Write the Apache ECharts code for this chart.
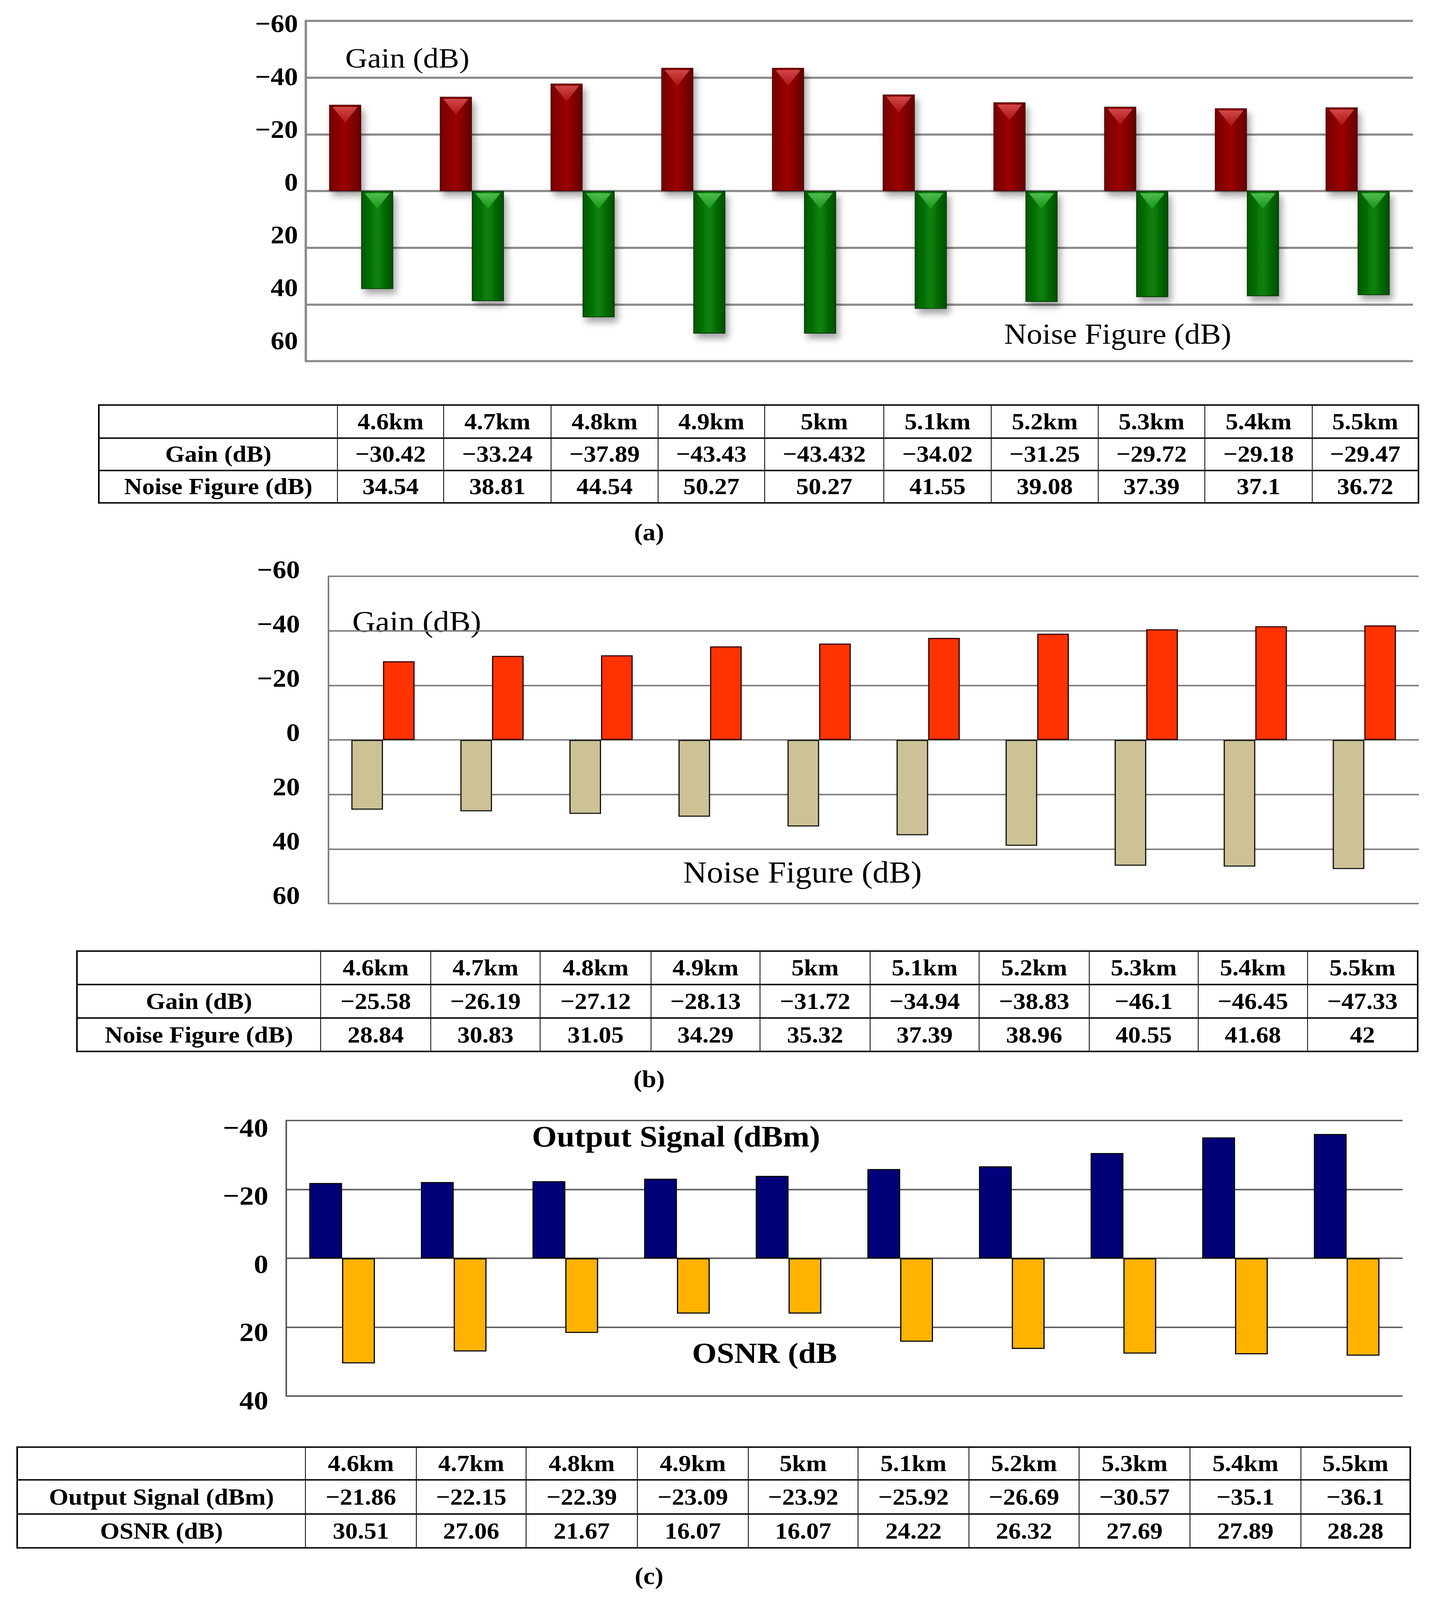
<!DOCTYPE html>
<html><head><meta charset="utf-8">
<script src="https://cdn.jsdelivr.net/npm/echarts@6/dist/echarts.min.js"></script>
<style>
html,body{margin:0;padding:0;background:#fff;overflow:hidden;}
#stage{position:absolute;left:0;top:0;width:3682px;height:4448px;transform-origin:0 0;}
#chart{position:absolute;left:0;top:0;width:3682px;height:4448px;}
.tbl{position:absolute;border-collapse:collapse;table-layout:fixed;font-family:'Liberation Serif',serif;font-weight:bold;font-size:64px;color:#000;}
.tbl td{border-left:2px solid #000;border-right:2px solid #000;border-top:4px solid #000;border-bottom:4px solid #000;text-align:center;vertical-align:middle;padding:0;white-space:nowrap;}
.tbl td:first-child{border-left:4px solid #000;}
.tbl td:last-child{border-right:4px solid #000;}
.cap{position:absolute;font-family:'Liberation Serif',serif;font-weight:bold;font-size:66px;transform:translate(-50%,-50%);line-height:1;}
</style></head><body>
<div id="stage"><div id="chart"></div></div>
<script>
// ---------------- data ----------------
const categories = ['4.6km','4.7km','4.8km','4.9km','5km','5.1km','5.2km','5.3km','5.4km','5.5km'];
// panel (a)
const gainA = [-30.42,-33.24,-37.89,-43.43,-43.432,-34.02,-31.25,-29.72,-29.18,-29.47];
const noiseA = [34.54,38.81,44.54,50.27,50.27,41.55,39.08,37.39,37.1,36.72];
// panel (b)
const gainB = [-25.58,-26.19,-27.12,-28.13,-31.72,-34.94,-38.83,-46.1,-46.45,-47.33];
const noiseB = [28.84,30.83,31.05,34.29,35.32,37.39,38.96,40.55,41.68,42];
// panel (c)
const outputC = [-21.86,-22.15,-22.39,-23.09,-23.92,-25.92,-26.69,-30.57,-35.1,-36.1];
const osnrC = [30.51,27.06,21.67,16.07,16.07,24.22,26.32,27.69,27.89,28.28];
// axis ticks
const ticksAB = {min:-60, max:60, interval:20};
const ticksC = {min:-40, max:40, interval:20};

// ---------------- helpers ----------------
const SERIF = '"Liberation Serif", "Times New Roman", serif';
function fmt(v){ return v < 0 ? '\u2212' + Math.abs(v) : String(v); }
const stage = document.getElementById('stage');

// map the 3682x4448 design onto the viewport the page really gets
const kx = (window.innerWidth || 3682) / 3682;
const ky = (window.innerHeight || 4448) / 4448;
stage.style.transform = 'scale(' + kx + ',' + ky + ')';

function buildTable(colEdges, rowEdges, rows){
  const t = document.createElement('table');
  t.className = 'tbl';
  t.style.left = colEdges[0] + 'px';
  t.style.top = rowEdges[0] + 'px';
  t.style.width = (colEdges[colEdges.length-1] - colEdges[0]) + 'px';
  const cg = document.createElement('colgroup');
  for (let i = 0; i < colEdges.length - 1; i++){
    const c = document.createElement('col');
    c.style.width = (colEdges[i+1] - colEdges[i]) + 'px';
    cg.appendChild(c);
  }
  t.appendChild(cg);
  rows.forEach((r, ri) => {
    const tr = document.createElement('tr');
    tr.style.height = (rowEdges[ri+1] - rowEdges[ri]) + 'px';
    r.forEach(txt => { const td = document.createElement('td'); td.textContent = txt; tr.appendChild(td); });
    t.appendChild(tr);
  });
  stage.appendChild(t);
}
function caption(text, x, y){
  const d = document.createElement('div');
  d.className = 'cap'; d.textContent = text;
  d.style.left = x + 'px'; d.style.top = y + 'px';
  stage.appendChild(d);
}

buildTable([251,862,1134,1409,1683,1956,2261,2536,2810,3083,3358,3630],[1124,1216,1306,1396],
  [[''].concat(categories), ['Gain (dB)'].concat(gainA.map(fmt)), ['Noise Figure (dB)'].concat(noiseA.map(fmt))]);
buildTable([195,819,1101,1381,1665,1944,2226,2505,2787,3066,3346,3628],[2642,2735,2828,2921],
  [[''].concat(categories), ['Gain (dB)'].concat(gainB.map(fmt)), ['Noise Figure (dB)'].concat(noiseB.map(fmt))]);
buildTable([42,780,1064,1345,1630,1914,2195,2479,2761,3045,3329,3609],[4021,4112,4207,4301],
  [[''].concat(categories), ['Output Signal (dBm)'].concat(outputC.map(fmt)), ['OSNR (dB)'].concat(osnrC.map(fmt))]);
caption('(a)', 1662, 1480);
caption('(b)', 1662, 3000);
caption('(c)', 1662, 4381);

// ---------------- chart ----------------
const grids = [
  {left:783, top:58, width:2835, height:946},   // 0 (a) bars
  {left:783, top:66, width:2835, height:881},   // 1 (a) tick labels
  {left:841, top:1602, width:2792, height:910}, // 2 (b) bars
  {left:841, top:1584, width:2792, height:905}, // 3 (b) tick labels
  {left:733, top:3115, width:2858, height:766}, // 4 (c) bars
  {left:733, top:3135, width:2858, height:758}  // 5 (c) tick labels
];
const xAxes = grids.map((g, i) => ({type:'category', gridIndex:i, data:categories,
  axisLine:{show:false}, axisTick:{show:false}, axisLabel:{show:false}, splitLine:{show:false}}));

function mainY(gi, t, color, width){
  return {type:'value', gridIndex:gi, inverse:true, min:t.min, max:t.max, interval:t.interval,
    axisLine:{show:true, lineStyle:{color:color, width:width}}, axisTick:{show:false},
    axisLabel:{show:false}, splitLine:{show:true, lineStyle:{color:color, width:width}}};
}
function labelY(gi, t, margin, size){
  return {type:'value', gridIndex:gi, inverse:true, min:t.min, max:t.max, interval:t.interval,
    axisLine:{show:false}, axisTick:{show:false}, splitLine:{show:false},
    axisLabel:{show:true, margin:margin, color:'#000', fontFamily:SERIF, fontWeight:'bold', fontSize:size, formatter:fmt}};
}
const yAxes = [
  mainY(0, ticksAB, '#8a8a8a', 6), labelY(1, ticksAB, 20, 70),
  mainY(2, ticksAB, '#7a7a7a', 4), labelY(3, ticksAB, 73, 70),
  mainY(4, ticksC, '#555555', 4),  labelY(5, ticksC, 46, 74)
];

function hGrad(a, b, c){
  return new echarts.graphic.LinearGradient(0,0,1,0,[{offset:0,color:a},{offset:0.5,color:b},{offset:1,color:c}]);
}
function vGrad(a, b){
  return new echarts.graphic.LinearGradient(0,0,0,1,[{offset:0,color:a},{offset:1,color:b}]);
}
const shadow = {shadowColor:'rgba(0,0,0,0.35)', shadowBlur:18, shadowOffsetX:8, shadowOffsetY:14};
const triDown = 'path://M0,0 L100,0 L50,100 Z';
const triUp = 'path://M0,100 L100,100 L50,0 Z';

const series = [
  // (a)
  {type:'bar', name:'Gain (dB)', xAxisIndex:0, yAxisIndex:0, data:gainA, barWidth:82, barGap:'0%',
    itemStyle:Object.assign({color:hGrad('#760000','#9c0000','#640000'), borderColor:'#4a0000', borderWidth:2}, shadow)},
  {type:'bar', name:'Noise Figure (dB)', xAxisIndex:0, yAxisIndex:0, data:noiseA, barWidth:82, barGap:'0%',
    itemStyle:Object.assign({color:hGrad('#005a00','#0a820a','#005000'), borderColor:'#003000', borderWidth:2}, shadow)},
  {type:'pictorialBar', xAxisIndex:0, yAxisIndex:0, data:gainA, barWidth:82, barGap:'0%', z:4,
    symbol:triDown, symbolSize:[64,44], symbolPosition:'end', symbolOffset:[0,6], silent:true,
    itemStyle:{color:vGrad('#e25a5a','#b01818'), opacity:0.8}},
  {type:'pictorialBar', xAxisIndex:0, yAxisIndex:0, data:noiseA, barWidth:82, barGap:'0%', z:4,
    symbol:triUp, symbolSize:[64,44], symbolPosition:'start', symbolOffset:[0,6], silent:true,
    itemStyle:{color:vGrad('#1a9a1a','#5fd05f'), opacity:0.8}},
  // (b) — drawn as in the picture: the tan (downward) bars carry the gain magnitudes,
  // the red (upward) bars carry the noise figure values
  {type:'bar', name:'Gain (dB)', xAxisIndex:2, yAxisIndex:2, data:gainB.map(v => -v), barWidth:81, barGap:'0%',
    itemStyle:{color:'#CCC295', borderColor:'#111', borderWidth:3}},
  {type:'bar', name:'Noise Figure (dB)', xAxisIndex:2, yAxisIndex:2, data:noiseB.map(v => -v), barWidth:81, barGap:'0%',
    itemStyle:{color:'#FF3300', borderColor:'#2a0000', borderWidth:3}},
  // (c)
  {type:'bar', name:'Output Signal (dBm)', xAxisIndex:4, yAxisIndex:4, data:outputC, barWidth:84, barGap:'0%',
    itemStyle:{color:'#000078', borderColor:'#000', borderWidth:3}},
  {type:'bar', name:'OSNR (dB)', xAxisIndex:4, yAxisIndex:4, data:osnrC, barWidth:84, barGap:'0%',
    itemStyle:{color:'#FFB300', borderColor:'#000', borderWidth:3}}
];

function label(text, x, y, size, weight){
  return {type:'text', x:x, y:y, silent:true,
    style:{text:text, fill:'#000', font:(weight||'normal') + ' ' + size + 'px ' + SERIF, align:'left', verticalAlign:'middle'}};
}
const graphics = [
  label('Gain (dB)', 884, 161, 79),
  label('Noise Figure (dB)', 2571, 929, 80),
  label('Gain (dB)', 902, 1728, 82),
  label('Noise Figure (dB)', 1749, 2424, 84),
  label('Output Signal (dBm)', 1362, 3160, 82, 'bold'),
  label('OSNR (dB', 1772, 3762, 81, 'bold')
];

const chart = echarts.init(document.getElementById('chart'), null, {renderer:'svg', width:3682, height:4448});
chart.setOption({
  animation:false,
  backgroundColor:'#ffffff',
  grid:grids, xAxis:xAxes, yAxis:yAxes, series:series, graphic:graphics
});
</script>
</body></html>
